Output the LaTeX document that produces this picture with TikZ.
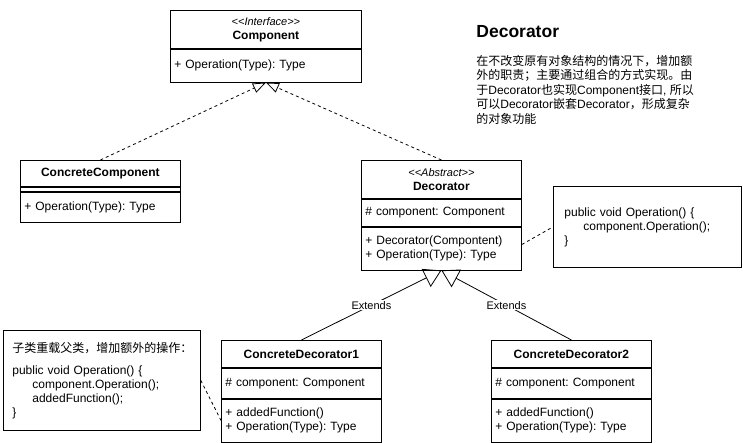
\documentclass[tikz,border=0pt]{standalone}
\usepackage{fontspec}
\setmainfont{Liberation Sans}
\newfontfamily\cjk{Noto Sans CJK SC}
\usetikzlibrary{positioning, arrows.meta}
\newcommand\zh[1]{{\cjk #1}}
\newcommand\stereotype[1]{{\fontsize{11}{13}\selectfont\itshape <\kern0pt<#1>\kern0pt>}}

\begin{document}
\begin{tikzpicture}[x=1pt, y=-1pt, font=\fontsize{12}{14}\selectfont\frenchspacing, line width=0.8pt,
  umlhead/.style={draw, align=center, inner xsep=4pt, inner ysep=0pt, text width=#1},
  umlpart/.style={draw, align=left, inner xsep=4pt, inner ysep=0pt, text width=#1},
  notebox/.style={draw, align=left, inner ysep=0pt},
  realize/.style={dash pattern=on 3pt off 3pt, -{Triangle[open, length=13pt, width=10pt]}},
  extends/.style={-{Triangle[open, length=17pt, width=20pt]}},
  link/.style={dash pattern=on 3pt off 3pt},
  edgelabel/.style={fill=white, inner sep=1pt, font=\fontsize{11}{13}\selectfont}]

\useasboundingbox (0,0) rectangle (743,443);

\node[umlhead=183pt, minimum height=38pt, anchor=north west] (comp) at (170,10)
  {\stereotype{Interface}\\\textbf{Component}};
\node[umlpart=183pt, minimum height=33pt, below=0pt of comp] (compops)
  {+ Operation(Type): Type};

\node[umlhead=152pt, minimum height=26pt, anchor=north west] (cc) at (20,160)
  {\textbf{ConcreteComponent}};
\node[umlpart=152pt, minimum height=4pt, below=0pt of cc] (ccattr) {};
\node[umlpart=152pt, minimum height=30pt, below=0pt of ccattr] (ccops)
  {+ Operation(Type): Type};

\node[umlhead=152pt, minimum height=38pt, anchor=north west] (dec) at (361,160)
  {\stereotype{Abstract}\\\textbf{Decorator}};
\node[umlpart=152pt, minimum height=27pt, below=0pt of dec] (decattr)
  {\# component: Component};
\node[umlpart=152pt, minimum height=43pt, below=0pt of decattr] (decops)
  {+ Decorator(Compontent)\\+ Operation(Type): Type};

\node[umlhead=152pt, minimum height=27pt, anchor=north west] (cd1) at (221,340)
  {\textbf{ConcreteDecorator1}};
\node[umlpart=152pt, minimum height=30pt, below=0pt of cd1] (cd1attr)
  {\# component: Component};
\node[umlpart=152pt, minimum height=43pt, below=0pt of cd1attr] (cd1ops)
  {+ addedFunction()\\+ Operation(Type): Type};

\node[umlhead=152pt, minimum height=27pt, anchor=north west] (cd2) at (491,340)
  {\textbf{ConcreteDecorator2}};
\node[umlpart=152pt, minimum height=30pt, below=0pt of cd2] (cd2attr)
  {\# component: Component};
\node[umlpart=152pt, minimum height=43pt, below=0pt of cd2attr] (cd2ops)
  {+ addedFunction()\\+ Operation(Type): Type};

\node[notebox, inner xsep=11pt, text width=166pt, minimum height=81pt, anchor=north west] (codenote) at (553,186)
  {public void Operation() \{\\\hspace*{19pt}component.Operation();\\\}};

\node[notebox, inner xsep=9pt, text width=179pt, minimum height=100pt, anchor=north west] (overnote) at (3,330)
  {\zh{子类重载父类，增加额外的操作：}\\[8pt]
   public void Operation() \{\\\hspace*{20pt}component.Operation();\\\hspace*{20pt}addedFunction();\\\}};

\node[font=\fontsize{17.5}{20}\selectfont\bfseries, inner sep=0pt, anchor=west] (title) at (476,32) {Decorator};
\node[align=left, inner sep=0pt, font=\fontsize{12}{14.5}\selectfont, below right=16pt and 0pt of title.south west] (desc)
  {\zh{在不改变原有对象结构的情况下，增加额}\\
   \zh{外的职责；主要通过组合的方式实现。由}\\
   \zh{于}Decorator\zh{也实现}Component\zh{接口}, \zh{所以}\\
   \zh{可以}Decorator\zh{嵌套}Decorator\zh{，形成复杂}\\
   \zh{的对象功能}};

\draw[realize] (cc.north) -- (compops.south);
\draw[realize] (dec.north) -- (compops.south);
\draw[extends] (cd1.north) -- node[edgelabel] {Extends} (decops.south);
\draw[extends] (cd2.north) -- node[edgelabel] {Extends} (decops.south);
\draw[link] ([yshift=4pt]decops.east) -- (codenote.west);
\draw[link] (overnote.east) -- (cd1ops.west);

\end{tikzpicture}
\end{document}
